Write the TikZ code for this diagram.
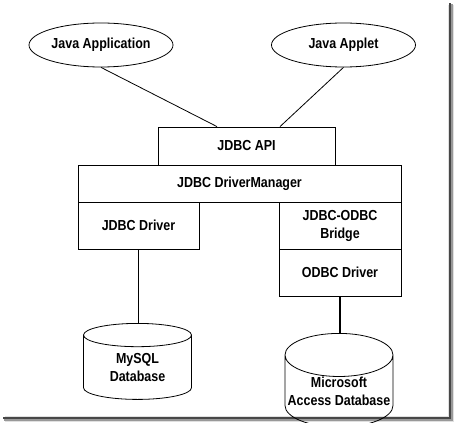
\documentclass[tikz,border=0pt]{standalone}
\usepackage{fontspec}
\setmainfont[FakeStretch=0.86]{Liberation Sans}
\usetikzlibrary{shapes.geometric,calc}
\tikzset{
	box/.style={draw, line width=0.8pt, inner sep=0pt},
	app/.style={draw, ellipse, line width=0.8pt, inner sep=0pt, minimum width=144pt, minimum height=44pt},
	db/.style={draw, cylinder, shape border rotate=90, aspect=0.42, line width=0.8pt, inner sep=0pt, align=center, minimum width=108pt, minimum height=76pt, anchor=top},
	link/.style={line width=0.8pt},
	dblink/.style={line width=1.8pt}
}
\begin{document}
\begin{tikzpicture}[x=1pt, y=-1pt, font=\fontsize{14.5}{18}\selectfont\bfseries]
	\useasboundingbox (0,0) rectangle (454,422);
	\fill[black!12] (5,416) rectangle (454,422);
	\fill[black!12] (448,5) rectangle (454,422);
	\fill[black!40] (4,417) rectangle (452.5,420.5);
	\fill[black!40] (449,4) rectangle (452.5,420.5);
	\fill[black!72] (3,417) rectangle (451,419);
	\fill[black!72] (449,3) rectangle (451,419);
	\node[app] (javaapp) at (101,45) {Java Application};
	\node[app] (applet) at (343.5,45) {Java Applet};
	\node[box, minimum width=177pt, minimum height=38pt] (api) at (246.5,146) {JDBC API};
	\node[box, minimum width=323pt, minimum height=37pt] (manager) at (239.5,183.5) {JDBC DriverManager};
	\node[box, minimum width=121pt, minimum height=47pt] (jdbcdriver) at (138.5,225.5) {JDBC Driver};
	\node[box, minimum width=122pt, minimum height=47pt, align=center] (bridge) at (340,225.5) {JDBC-ODBC\\Bridge};
	\node[box, minimum width=122pt, minimum height=47pt] (odbcdriver) at (340,272.5) {ODBC Driver};
	\node[db] (mysql) at (137.5,323) {MySQL\\Database};
	\node[db] (access) at (339,333) {Microsoft\\Access Database};
	\draw[link] (javaapp.south) -- ($(api.north)+(-29.5,0)$);
	\draw[link] (applet.south) -- ($(api.north)+(33.5,0)$);
	\draw[dblink] (jdbcdriver.south) -- (jdbcdriver.south |- mysql.top);
	\draw[dblink] (odbcdriver.south) -- (odbcdriver.south |- access.top);
\end{tikzpicture}
\end{document}
